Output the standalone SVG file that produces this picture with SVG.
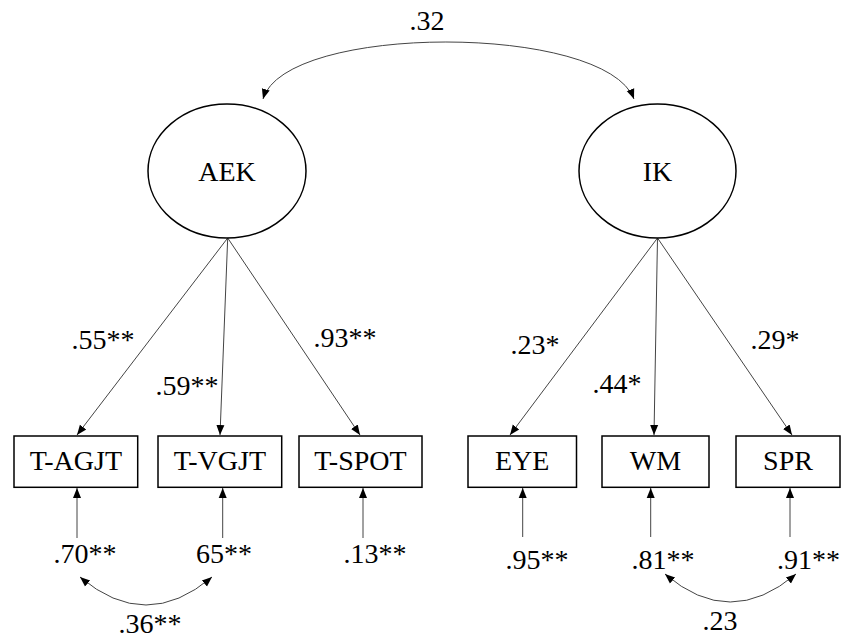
<svg xmlns="http://www.w3.org/2000/svg" width="841" height="640" viewBox="0 0 841 640">
<defs>
<style>
.node{fill:#fff;stroke:#000;stroke-width:1.5}
.c{fill:none;stroke:#444;stroke-width:1}
.a{marker-end:url(#ah)}
.b{marker-start:url(#ahs);marker-end:url(#ah)}
</style>
<marker id="ah" viewBox="0 0 10 10" refX="10" refY="5" markerWidth="10" markerHeight="10" markerUnits="userSpaceOnUse" orient="auto">
<path d="M0,1 L10,5 L0,9 z" fill="#000"/>
</marker>
<marker id="ahs" viewBox="0 0 10 10" refX="0" refY="5" markerWidth="10" markerHeight="10" markerUnits="userSpaceOnUse" orient="auto">
<path d="M10,1 L0,5 L10,9 z" fill="#000"/>
</marker>
</defs>
<rect width="841" height="640" fill="#fff"/>
<g id="connectors">
<path class="c b" d="M263,99 C285,23 605,23 634,99"/>
<line class="c a" x1="227.7" y1="238" x2="77" y2="435"/>
<line class="c a" x1="227.7" y1="238" x2="220" y2="435"/>
<line class="c a" x1="227.7" y1="238" x2="360" y2="435"/>
<line class="c a" x1="657.5" y1="238" x2="510" y2="435"/>
<line class="c a" x1="657.5" y1="238" x2="654" y2="435"/>
<line class="c a" x1="657.5" y1="238" x2="792" y2="435"/>
<line class="c a" x1="77" y1="538" x2="77" y2="488"/>
<line class="c a" x1="222.7" y1="538" x2="222.7" y2="488"/>
<line class="c a" x1="363" y1="538" x2="363" y2="488"/>
<line class="c a" x1="522.7" y1="537" x2="522.7" y2="488"/>
<line class="c a" x1="650.7" y1="537" x2="650.7" y2="488"/>
<line class="c a" x1="790" y1="537" x2="790" y2="488"/>
<path class="c b" d="M80,577 Q146,633 212,577"/>
<path class="c b" d="M665,574 Q730,630 796,574"/>
<text x="427" y="30" font-family="Liberation Serif" font-size="28" text-anchor="middle">.32</text>
<text x="103" y="349" font-family="Liberation Serif" font-size="28" text-anchor="middle">.55**</text>
<text x="187" y="395" font-family="Liberation Serif" font-size="28" text-anchor="middle">.59**</text>
<text x="345" y="347" font-family="Liberation Serif" font-size="28" text-anchor="middle">.93**</text>
<text x="535" y="354" font-family="Liberation Serif" font-size="28" text-anchor="middle">.23*</text>
<text x="617" y="393" font-family="Liberation Serif" font-size="28" text-anchor="middle">.44*</text>
<text x="775" y="349" font-family="Liberation Serif" font-size="28" text-anchor="middle">.29*</text>
<text x="85" y="563" font-family="Liberation Serif" font-size="28" text-anchor="middle">.70**</text>
<text x="224" y="563" font-family="Liberation Serif" font-size="28" text-anchor="middle">65**</text>
<text x="375" y="563" font-family="Liberation Serif" font-size="28" text-anchor="middle">.13**</text>
<text x="537" y="569" font-family="Liberation Serif" font-size="28" text-anchor="middle">.95**</text>
<text x="663" y="569" font-family="Liberation Serif" font-size="28" text-anchor="middle">.81**</text>
<text x="777" y="569" font-family="Liberation Serif" font-size="28">.91**</text>
<text x="150" y="633" font-family="Liberation Serif" font-size="28" text-anchor="middle">.36**</text>
<text x="720" y="630" font-family="Liberation Serif" font-size="28" text-anchor="middle">.23</text>
</g>
<g id="AEK"><ellipse class="node" cx="227" cy="171" rx="79" ry="67"/><text x="227" y="181" font-family="Liberation Serif" font-size="28" text-anchor="middle">AEK</text></g>
<g id="IK"><ellipse class="node" cx="657.5" cy="171" rx="78.5" ry="67"/><text x="657.5" y="181" font-family="Liberation Serif" font-size="28" text-anchor="middle">IK</text></g>
<g id="T-AGJT"><rect class="node" x="14" y="436" width="123.7" height="51.3"/><text x="75.9" y="470" font-family="Liberation Serif" font-size="28" text-anchor="middle">T-AGJT</text></g>
<g id="T-VGJT"><rect class="node" x="158" y="436" width="123.7" height="51.3"/><text x="219.9" y="470" font-family="Liberation Serif" font-size="28" text-anchor="middle">T-VGJT</text></g>
<g id="T-SPOT"><rect class="node" x="299" y="436" width="123" height="51.3"/><text x="360.5" y="470" font-family="Liberation Serif" font-size="28" text-anchor="middle">T-SPOT</text></g>
<g id="EYE"><rect class="node" x="468" y="436" width="108.5" height="51.3"/><text x="522.2" y="470" font-family="Liberation Serif" font-size="28" text-anchor="middle">EYE</text></g>
<g id="WM"><rect class="node" x="602" y="436" width="107" height="51.3"/><text x="655.5" y="470" font-family="Liberation Serif" font-size="28" text-anchor="middle">WM</text></g>
<g id="SPR"><rect class="node" x="736" y="436" width="104" height="51.3"/><text x="788" y="470" font-family="Liberation Serif" font-size="28" text-anchor="middle">SPR</text></g>
</svg>
